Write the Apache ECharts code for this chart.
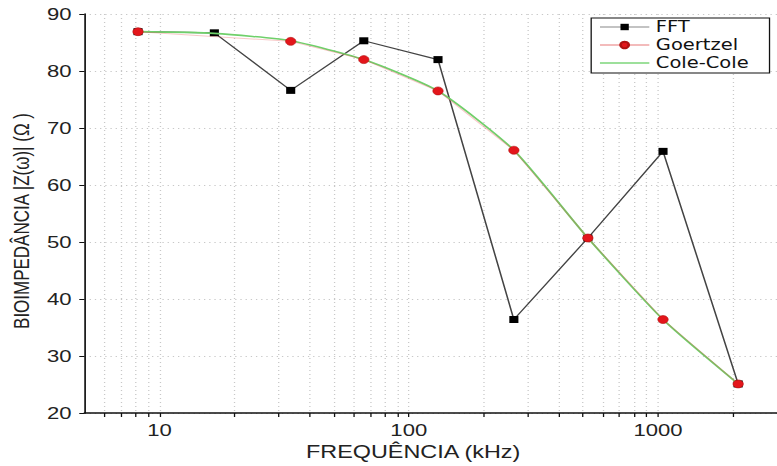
<!DOCTYPE html>
<html>
<head>
<meta charset="utf-8">
<script src="https://cdn.jsdelivr.net/npm/echarts@6/dist/echarts.min.js"></script>
<style>
  html, body { margin: 0; padding: 0; background: #fff; overflow: hidden; }
  /* the reference is stretched sideways, so the chart is drawn narrow and scaled */
  #chart { width: 598px; height: 466px; transform: scaleX(1.2993); transform-origin: 0 0; }
</style>
</head>
<body>
<div id="chart"></div>
<script>
  // frequências (kHz) e módulo da impedância (Ω)
  const freqFFT = [8.2, 16.6, 33.6, 66, 131, 264, 523, 1047, 2096];
  const zFFT = [86.9, 86.7, 76.6, 85.3, 82.0, 36.4, 50.7, 65.9, 25.1];
  const freqGoertzel = [8.2, 33.6, 66, 131, 264, 523, 1047, 2096];
  const zGoertzel = [86.9, 85.2, 82.0, 76.5, 66.1, 50.7, 36.4, 25.1];
  const freqCole = [8.2, 16.6, 33.6, 66, 131, 264, 523, 1047, 2096];
  const zCole = [86.9, 86.6, 85.3, 82.0, 76.5, 66.1, 50.7, 36.4, 25.1];
  const xTicks = [6, 7, 8, 9, 10, 20, 30, 40, 50, 60, 70, 80, 90, 100,
    200, 300, 400, 500, 600, 700, 800, 900, 1000, 2000];
  const xLabels = [10, 100, 1000];

  const pairs = (xs, ys) => xs.map((x, i) => [x, ys[i]]);
  const font = "'Liberation Sans', Arial, sans-serif";

  const chart = echarts.init(document.getElementById('chart'), null, { renderer: 'svg' });
  const option = {
    animation: false,
    grid: { left: 65, right: 0, top: 14, bottom: 51 },
    legend: {
      orient: 'vertical',
      left: 455,
      top: 18,
      padding: [0, 16, 1, 6],
      itemGap: 0,
      itemWidth: 38,
      itemHeight: 8,
      backgroundColor: '#fff',
      borderColor: '#111',
      borderWidth: 1,
      textStyle: { fontFamily: "'DejaVu Sans', sans-serif", fontSize: 15, lineHeight: 18, color: '#111' },
      data: [
        { name: 'FFT', lineStyle: { color: '#888', width: 1 } },
        { name: 'Goertzel', lineStyle: { color: '#e87878', width: 1, opacity: 1 } },
        { name: 'Cole-Cole', itemStyle: { opacity: 0 }, lineStyle: { color: '#7dd67a', width: 1.5 } }
      ]
    },
    xAxis: {
      type: 'log',
      min: 5,
      max: 3000,
      name: 'FREQUÊNCIA (kHz)',
      nameLocation: 'middle',
      nameGap: 30,
      nameTextStyle: { fontFamily: font, fontSize: 18, color: '#222', padding: [0, 27, 0, 0] },
      axisLine: { lineStyle: { color: '#111', width: 1.5 } },
      axisTick: { customValues: xTicks, length: 4, lineStyle: { color: '#111' } },
      axisLabel: {
        customValues: xLabels,
        margin: 8,
        fontFamily: font,
        fontSize: 17,
        color: '#222',
        formatter: v => String(Math.round(v))
      },
      splitLine: { show: true, lineStyle: { color: '#c8c8c8', type: [1, 3] } },
      minorTick: { show: false }
    },
    yAxis: {
      type: 'value',
      min: 20,
      max: 90,
      interval: 10,
      name: 'BIOIMPEDÂNCIA |Z(ω)| (Ω )',
      nameLocation: 'middle',
      nameGap: 40,
      nameTextStyle: { fontFamily: font, fontSize: 17, color: '#222', padding: [0, 15, 0, 0] },
      axisLine: { show: true, lineStyle: { color: '#111', width: 1.3 } },
      axisTick: { show: true, length: 4, lineStyle: { color: '#111' } },
      axisLabel: { margin: 10, fontFamily: font, fontSize: 17, color: '#222' },
      splitLine: { show: true, lineStyle: { color: '#c8c8c8', type: [1, 3] } }
    },
    series: [
      {
        name: 'FFT',
        type: 'line',
        z: 2,
        data: pairs(freqFFT, zFFT),
        symbol: 'rect',
        symbolSize: 7,
        itemStyle: { color: '#000' },
        lineStyle: { color: '#444', width: 1.2 }
      },
      {
        name: 'Goertzel',
        type: 'line',
        z: 4,
        data: pairs(freqGoertzel, zGoertzel),
        symbol: 'circle',
        symbolSize: 8,
        itemStyle: { color: '#e3161b', borderColor: '#b01010', borderWidth: 0.5 },
        lineStyle: { color: '#e84a4a', width: 1, opacity: 0.3 }
      },
      {
        name: 'Cole-Cole',
        type: 'line',
        z: 3,
        data: pairs(freqCole, zCole),
        symbol: 'none',
        smooth: 0.2,
        itemStyle: { color: '#6fd06a' },
        lineStyle: { color: '#6fd06a', width: 1.6 }
      }
    ]
  };
  chart.setOption(option);
</script>
</body>
</html>
